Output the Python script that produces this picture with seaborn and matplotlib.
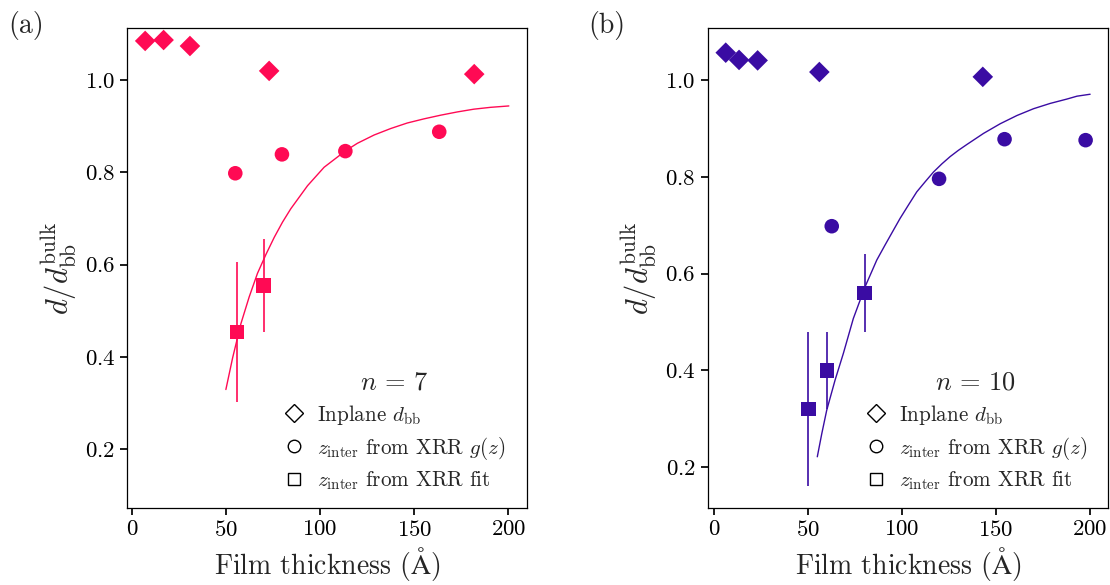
import numpy as np
import pandas as pd
import seaborn as sns
import matplotlib.pyplot as plt
from matplotlib.lines import Line2D

# ---------- data: panel (a), n = 7 ----------
a_inplane_x = [7.0, 16.8, 30.8, 72.9, 181.9]
a_inplane_y = [1.085, 1.087, 1.074, 1.020, 1.013]
a_gz_x = [54.9, 79.7, 113.4, 163.3]
a_gz_y = [0.798, 0.839, 0.846, 0.888]
a_fit_x = [55.8, 69.9]
a_fit_y = [0.454, 0.555]
a_fit_err = [0.152, 0.101]
a_curve_x = [49.9, 53.5, 57.9, 62.3, 66.7, 71.2, 75.6, 80.0, 84.4, 93.3, 102.1, 113.6, 119.8,
             128.7, 137.5, 146.3, 155.2, 164.1, 172.9, 181.7, 190.6, 200.3]
a_curve_y = [0.329, 0.398, 0.472, 0.530, 0.581, 0.622, 0.659, 0.692, 0.721, 0.771, 0.811, 0.847, 0.863,
             0.881, 0.895, 0.907, 0.916, 0.924, 0.931, 0.937, 0.941, 0.944]

# ---------- data: panel (b), n = 10 ----------
b_inplane_x = [6.1, 13.2, 23.1, 56.0, 143.1]
b_inplane_y = [1.057, 1.042, 1.041, 1.017, 1.007]
b_gz_x = [62.6, 119.8, 154.7, 197.9]
b_gz_y = [0.698, 0.796, 0.878, 0.876]
b_fit_x = [50.1, 60.1, 80.2]
b_fit_y = [0.320, 0.400, 0.560]
b_fit_err = [0.160, 0.080, 0.080]
b_curve_x = [54.9, 57.3, 59.9, 64.4, 68.8, 74.1, 80.4, 83.9, 86.6, 91.0, 95.5, 99.0, 103.5, 107.9,
             112.4, 116.8, 121.3, 125.7, 130.1, 134.6, 143.5, 152.4, 161.3, 170.1, 179.0, 187.9,
             193.3, 200.3]
b_curve_y = [0.221, 0.269, 0.317, 0.380, 0.435, 0.507, 0.573, 0.604, 0.628, 0.659, 0.690, 0.714,
             0.742, 0.769, 0.790, 0.810, 0.827, 0.842, 0.855, 0.867, 0.890, 0.910, 0.927, 0.941,
             0.952, 0.961, 0.967, 0.971]

col_a = '#ff0a54'
col_b = '#3a0ca3'

sns.set_theme(style='ticks')
plt.rcParams.update({
    'font.family': 'serif',
    'font.serif': ['cmr10'],
    'mathtext.fontset': 'cm',
    'axes.formatter.use_mathtext': True,
    'axes.edgecolor': 'black',
    'axes.linewidth': 0.9,
    'xtick.color': 'black',
    'ytick.color': 'black',
    'xtick.labelsize': 16.5,
    'ytick.labelsize': 16.5,
    'xtick.major.size': 5,
    'ytick.major.size': 5,
})

fig = plt.figure(figsize=(11.1, 5.85), dpi=100)
ax_a = fig.add_axes([0.1144, 0.1316, 0.3604, 0.8205])
ax_b = fig.add_axes([0.6374, 0.1316, 0.3611, 0.8205])


def draw_panel(ax, col, inx, iny, gx, gy, fx, fy, ferr, cx, cy, n, ylim):
    sns.lineplot(x=cx, y=cy, ax=ax, color=col, lw=1.0, sort=False)
    ax.errorbar(fx, fy, yerr=ferr, fmt='none', ecolor=col, elinewidth=1.2, capsize=0)
    sns.scatterplot(x=inx, y=iny, ax=ax, color=col, marker='D', s=110, edgecolor='none')
    sns.scatterplot(x=gx, y=gy, ax=ax, color=col, marker='o', s=110, edgecolor='none')
    sns.scatterplot(x=fx, y=fy, ax=ax, color=col, marker='s', s=110, edgecolor='none')
    ax.set_ylim(*ylim)
    ax.set_xticks([0, 50, 100, 150, 200])
    ax.set_yticks([0.2, 0.4, 0.6, 0.8, 1.0])
    ax.set_xlabel(r'Film thickness ($\mathrm{\AA}$)', fontsize=20)
    ax.set_ylabel(r'$d/d_{\rm bb}^{\rm bulk}$', fontsize=22)
    handles = [
        Line2D([], [], ls='none', marker='D', ms=9, mfc='white', mec='black', mew=1.0),
        Line2D([], [], ls='none', marker='o', ms=9, mfc='white', mec='black', mew=1.0),
        Line2D([], [], ls='none', marker='s', ms=9, mfc='white', mec='black', mew=1.0),
    ]
    labels = [r'Inplane $d_{\rm bb}$', r'$z_{\rm inter}$ from XRR $g(z)$', r'$z_{\rm inter}$ from XRR fit']
    ax.legend(handles, labels, title=r'$n\,=\,%d$' % n, loc='lower right',
              bbox_to_anchor=(1.0, -0.011), frameon=False, fontsize=15.2, title_fontsize=19,
              handlelength=1.2, handletextpad=0.5, labelspacing=0.38, borderaxespad=0.6)


draw_panel(ax_a, col_a, a_inplane_x, a_inplane_y, a_gz_x, a_gz_y, a_fit_x, a_fit_y, a_fit_err,
           a_curve_x, a_curve_y, 7, (0.072, 1.113))
draw_panel(ax_b, col_b, b_inplane_x, b_inplane_y, b_gz_x, b_gz_y, b_fit_x, b_fit_y, b_fit_err,
           b_curve_x, b_curve_y, 10, (0.115, 1.108))

fig.text(0.007, 0.957, '(a)', fontsize=20, va='center')
fig.text(0.530, 0.957, '(b)', fontsize=20, va='center')

fig.savefig('out.png', dpi=100)
